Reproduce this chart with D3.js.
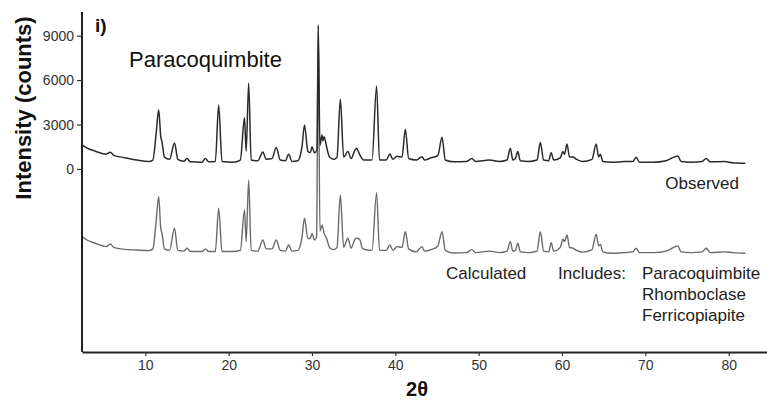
<!DOCTYPE html>
<html><head><meta charset="utf-8">
<script src="https://cdn.jsdelivr.net/npm/d3@7"></script>
<style>body{margin:0;background:#fff}svg{display:block}text{font-family:"Liberation Sans",Arial,sans-serif}</style>
</head><body>
<script>
// ---- data ----
const xTicks = [10, 20, 30, 40, 50, 60, 70, 80];
const yTicks = [0, 3000, 6000, 9000];
const observedTheta = [2.4,3.0,4.0,5.3,5.8,6.2,7.5,9.0,10.4,10.9,11.3,11.6,11.85,12.0,12.3,12.9,13.5,13.9,14.6,15.0,15.4,16.8,17.2,17.6,18.4,18.8,19.2,20.5,21.4,21.9,22.1,22.4,22.7,23.5,24.1,24.5,25.2,25.7,26.2,26.8,27.2,27.6,28.3,28.8,29.1,29.5,29.8,30.0,30.3,30.6,30.75,30.95,31.2,31.3,31.45,31.75,32.1,32.6,33.0,33.4,33.8,34.3,34.7,35.1,35.35,35.7,36.2,37.2,37.75,38.1,38.9,39.35,39.7,40.2,40.8,41.2,41.6,42.5,43.2,43.5,44.3,45.1,45.6,46.0,47.0,48.5,49.2,49.6,51.3,52.5,53.4,53.8,54.1,54.4,54.7,55.0,56.0,57.0,57.4,57.8,58.4,58.7,59.0,59.8,60.1,60.3,60.6,60.9,61.3,61.75,62.5,63.6,64.1,64.4,64.6,64.9,66.0,67.5,68.5,68.9,69.3,71.0,72.5,73.9,74.3,75.5,76.8,77.3,77.8,79.5,80.5,82.0];
const observedCounts = [1620,1400,1200,1000,1130,920,760,600,500,600,2400,3990,2200,1820,800,650,1760,650,520,700,480,450,700,480,500,4320,500,450,600,3450,1200,5790,600,550,1150,650,700,1440,600,550,990,500,550,1500,2970,1200,1100,1500,1100,1300,9730,1600,2300,1900,2180,1500,800,650,800,4710,800,1170,700,1200,1400,1000,600,600,5610,600,600,1010,650,850,800,2680,700,600,830,600,750,900,2140,600,480,500,700,500,600,500,600,1400,600,700,1170,550,500,600,1780,600,550,1100,600,750,1170,1000,1690,800,800,650,500,650,1690,800,1000,500,450,500,500,790,450,450,550,880,500,450,500,700,480,500,420,385];
const calculatedTheta = [2.4,3.0,4.0,5.3,5.8,6.2,7.5,9.0,10.4,10.9,11.3,11.6,11.85,12.0,12.3,12.9,13.5,13.9,14.6,15.0,15.4,16.8,17.2,17.6,18.4,18.8,19.2,20.5,21.4,21.9,22.1,22.4,22.7,23.5,24.1,24.5,25.2,25.7,26.2,26.8,27.2,27.6,28.3,28.8,29.1,29.5,29.8,30.0,30.3,30.55,30.75,30.95,31.2,31.45,31.75,32.1,32.6,33.0,33.4,33.8,34.3,34.7,35.1,35.35,35.7,36.1,37.2,37.75,38.1,38.9,39.35,39.7,40.2,40.8,41.2,41.6,42.5,43.2,43.5,44.3,45.1,45.6,46.0,47.0,48.5,49.2,49.6,51.3,52.5,53.4,53.8,54.1,54.4,54.7,55.0,56.0,57.0,57.4,57.8,58.4,58.7,59.0,59.8,60.1,60.3,60.6,60.9,61.3,61.75,62.5,63.6,64.1,64.4,64.6,64.9,66.0,67.5,68.5,68.9,69.3,71.0,72.5,73.9,74.3,75.5,76.8,77.3,77.8,79.5,80.5,82.0];
const calculatedCounts = [1430,1200,980,750,930,700,570,520,480,600,2500,4130,2000,1650,600,500,1990,500,450,640,420,420,600,420,420,3350,420,420,500,3230,1100,5260,500,450,1200,600,600,1200,500,450,860,450,500,1400,2670,1300,1300,1650,1200,1430,15600,1800,2220,1650,1300,700,550,700,4240,700,1320,650,1200,1320,1250,600,500,4400,500,500,870,500,750,700,1760,600,400,750,450,550,800,1760,500,320,350,550,350,450,350,450,1090,450,500,980,400,350,450,1760,450,400,1020,450,700,1250,1100,1540,700,650,500,380,550,1590,800,900,400,300,350,400,640,350,350,450,800,400,350,400,640,350,400,350,300];
const calculatedOffset = -6000;
const includesLabel = "Includes:";
const phases = ["Paracoquimbite", "Rhomboclase", "Ferricopiapite"];

// ---- chart ----
const W = 767, H = 402;
const svg = d3.select("body").append("svg").attr("width", W).attr("height", H);
const x = d3.scaleLinear().domain([2.4, 84.6]).range([82, 767]);
const y = d3.scaleLinear().domain([-12365, 10600]).range([352, 12]);

const obs = observedTheta.map((t, i) => [t, observedCounts[i]]);
const calc = calculatedTheta.map((t, i) => [t, calculatedCounts[i] + calculatedOffset]);
const line = d3.line().x(d => x(d[0])).y(d => y(d[1])).curve(d3.curveMonotoneX);

svg.append("path").datum(calc).attr("d", line).attr("fill", "none")
  .attr("stroke", "#6a6a6a").attr("stroke-width", 1.4).attr("stroke-linejoin", "round");
svg.append("path").datum(obs).attr("d", line).attr("fill", "none")
  .attr("stroke", "#2a2a2a").attr("stroke-width", 1.5).attr("stroke-linejoin", "round");

// axes
const xAxis = svg.append("g").attr("transform", "translate(0,352)")
  .call(d3.axisBottom(x).tickValues(xTicks).tickSize(4).tickPadding(4).tickSizeOuter(0));
const yAxis = svg.append("g").attr("transform", "translate(82,0)")
  .call(d3.axisLeft(y).tickValues(yTicks).tickFormat(d3.format("d")).tickSize(5).tickPadding(3).tickSizeOuter(0));
[xAxis, yAxis].forEach(g => {
  g.select(".domain").attr("stroke", "#222").attr("stroke-width", 2);
  g.selectAll(".tick line").attr("stroke", "#333").attr("stroke-width", 1.2);
  g.selectAll(".tick text").attr("fill", "#333").style("font-size", "14px")
    .style("font-family", "'Liberation Sans', Arial, sans-serif");
});
yAxis.select(".domain").attr("d", `M0,${y.range()[1]}V${y.range()[0]}`);

// titles
svg.append("text").attr("transform", "translate(31,108) rotate(-90)").attr("text-anchor", "middle")
  .style("font-size", "22px").style("font-weight", "bold").attr("fill", "#111").text("Intensity (counts)");
svg.append("text").attr("x", 417).attr("y", 396).attr("text-anchor", "middle")
  .style("font-size", "20px").style("font-weight", "bold").attr("fill", "#111").text("2θ");
svg.append("text").attr("x", 95).attr("y", 32)
  .style("font-size", "19px").style("font-weight", "bold").attr("fill", "#111").text("i)");
svg.append("text").attr("x", 129).attr("y", 67)
  .style("font-size", "22px").attr("fill", "#111").text("Paracoquimbite");
svg.append("text").attr("x", 739).attr("y", 189).attr("text-anchor", "end")
  .style("font-size", "17px").attr("fill", "#222").text("Observed");
svg.append("text").attr("x", 446).attr("y", 279)
  .style("font-size", "17px").attr("fill", "#222").text("Calculated");
svg.append("text").attr("x", 558).attr("y", 279)
  .style("font-size", "17px").attr("fill", "#222").text(includesLabel);
svg.selectAll("text.phase").data(phases).enter().append("text").attr("class", "phase")
  .attr("x", 642).attr("y", (d, i) => 279 + i * 21)
  .style("font-size", "17px").attr("fill", "#222").text(d => d);
</script>
</body></html>
